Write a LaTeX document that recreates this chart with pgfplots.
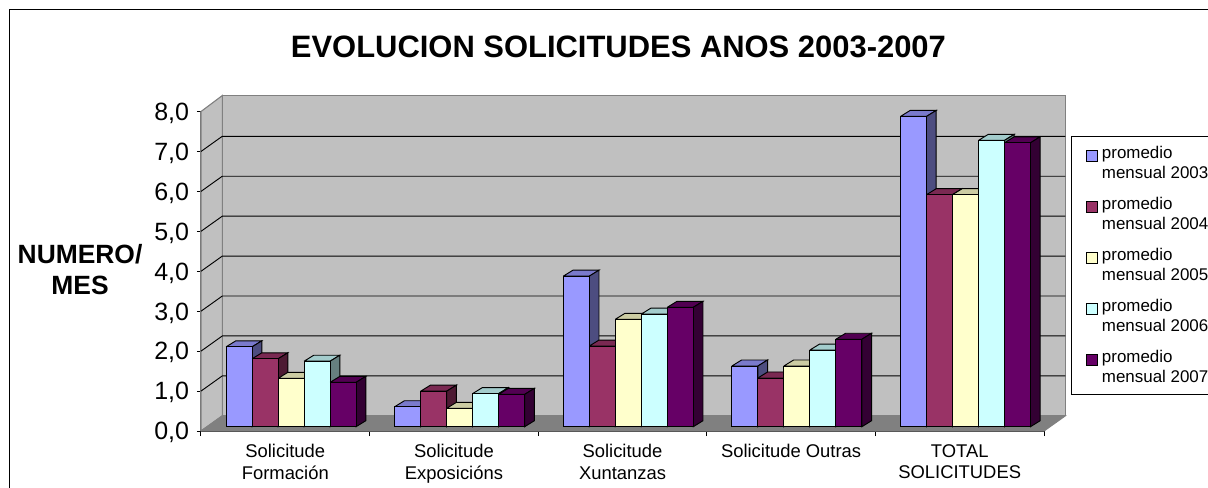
\documentclass[border=0pt]{standalone}
\usepackage{fontspec}
\setmainfont{Liberation Sans}
\usepackage{pgfplots}
\usepackage{pgfplotstable}
\pgfplotsset{compat=1.18}
\definecolor{sA}{HTML}{9999FF}\definecolor{sAt}{HTML}{7A7ACC}\definecolor{sAs}{HTML}{4D4D80}
\definecolor{sB}{HTML}{993366}\definecolor{sBt}{HTML}{7A2952}\definecolor{sBs}{HTML}{4D1A33}
\definecolor{sC}{HTML}{FFFFCC}\definecolor{sCt}{HTML}{CCCCA3}\definecolor{sCs}{HTML}{808066}
\definecolor{sD}{HTML}{CCFFFF}\definecolor{sDt}{HTML}{A3CCCC}\definecolor{sDs}{HTML}{668080}
\definecolor{sE}{HTML}{660066}\definecolor{sEt}{HTML}{520052}\definecolor{sEs}{HTML}{330033}
\definecolor{wallc}{HTML}{C0C0C0}\definecolor{floorc}{HTML}{808080}
\pgfplotstableread{
cat  a    b    c    d    e
0.5  2.00 1.70 1.21 1.64 1.11
1.5  0.50 0.89 0.46 0.83 0.81
2.5  3.77 2.02 2.69 2.82 2.99
3.5  1.52 1.22 1.52 1.92 2.19
4.5  7.77 5.81 5.81 7.17 7.11
}\chartdata
\newcommand\barW{0.1542}
\newcommand\barOff{0.0344}
\newcommand\depthX{0.0575}
\newcommand\depthY{0.15}
% top and side faces of one series, from the table
\newcommand\faces[4]{%
  \pgfplotsforeachungrouped \r in {0,1,2,3,4}{%
    \pgfplotstablegetelem{\r}{#2}\of\chartdata
    \let\v\pgfplotsretval
    \pgfmathsetmacro\xa{\r+0.5+\barOff+(#1-2.5)*\barW}%
    \pgfmathsetmacro\xb{\xa+\barW}%
    \pgfmathsetmacro\xc{\xa+\depthX}%
    \pgfmathsetmacro\xd{\xb+\depthX}%
    \pgfmathsetmacro\yt{\v+\depthY}%
    \edef\temp{\noexpand\addplot[forget plot,sharp plot,mark=none,yshift=3.225pt,fill=#3,draw=black,line width=.7pt]
      coordinates {(\xa,\v)(\xb,\v)(\xd,\yt)(\xc,\yt)(\xa,\v)};
      \noexpand\addplot[forget plot,sharp plot,mark=none,yshift=3.225pt,fill=#4,draw=black,line width=.7pt]
      coordinates {(\xb,\v)(\xd,\yt)(\xd,\depthY)(\xb,0)(\xb,\v)};}%
    \temp
  }%
}
\pgfplotsset{
  swatch/.style={legend image code/.code={\draw[##1,yshift=-3.225pt,line width=.7pt] (0pt,1.85pt) rectangle (8.25pt,10.1pt);}},
  front/.style={ybar,bar width=\barW,draw=black,line width=.7pt,swatch},
}
\begin{document}
\begin{tikzpicture}
\useasboundingbox (0,0) rectangle (906pt,365.25pt);
\clip (0,0) rectangle (906pt,365.25pt);
\fill[white] (0,0) rectangle (906pt,365.25pt);
\draw[black,line width=.8pt] (7.1pt,-2pt) -- (7.1pt,358.1pt) -- (910pt,358.1pt);
\begin{axis}[
  at={(150.75pt,42pt)},anchor=south west,
  scale only axis,width=632.25pt,height=239.6pt,
  xmin=0,xmax=5,ymin=0,ymax=8,clip=false,
  axis x line*=bottom,axis y line*=left,
  x axis line style={-,black,line width=.75pt},
  y axis line style={-,black!60,line width=.9pt},
  tick align=outside,
  ytick={0,1,2,3,4,5,6,7,8},
  y tick style={black,line width=.75pt},
  major y tick style={/pgfplots/major tick length=3pt},
  xtick={0.5,1.5,2.5,3.5,4.5},
  major x tick style={/pgfplots/major tick length=0pt,draw=none},
  minor xtick={0,1,2,3,4,5},
  minor x tick style={black,line width=.75pt},
  minor tick length=3.75pt,
  xticklabels={{Solicitude\\Formación},{Solicitude\\Exposicións},{Solicitude\\Xuntanzas},{Solicitude Outras},{TOTAL\\SOLICITUDES}},
  xticklabel style={align=center,font=\fontsize{13.8}{15.9}\selectfont,anchor=north,yshift=-2.4pt},
  yticklabel style={font=\fontsize{18.75}{20}\selectfont,/pgf/number format/.cd,use comma,fixed,fixed zerofill,precision=1,assume math mode=true,/tikz/.cd,inner sep=0pt,xshift=-4.5pt,yshift=-1.3pt},
  title={EVOLUCION SOLICITUDES ANOS 2003-2007},
  title style={at={(0.4952,1.1769)},anchor=center,yshift=0pt,font=\fontsize{23.2}{26}\selectfont\bfseries,inner sep=0pt},
  ylabel={NUMERO/\\MES},
  every axis y label/.style={at={(-0.1435,0.5055)},anchor=center,rotate=0,align=center,font=\fontsize{19.8}{23}\selectfont\bfseries},
  legend style={at={(1.0317,0.9224)},anchor=north west,draw=black,line width=.75pt,
    inner xsep=11pt,inner ysep=7.3pt,font=\fontsize{12.7}{14.6}\selectfont,
    nodes={inner sep=0pt,text depth=16.8pt},row sep=12.2pt,
    /tikz/column 1/.style={column sep=3.1pt}},
  legend cell align=left,
]
% walls, floor and gridlines
\addplot[forget plot,sharp plot,mark=none,fill=wallc,draw=floorc,line width=.8pt] coordinates {(0.1263,0.38)(5.1263,0.38)(5.1263,8.4)(0.1263,8.4)(0.1263,0.38)};
\addplot[forget plot,sharp plot,mark=none,fill=wallc,draw=floorc,line width=.8pt] coordinates {(0,0)(0.1263,0.38)(0.1263,8.4)(0,8)(0,0)};
\addplot[forget plot,sharp plot,mark=none,fill=floorc,draw=floorc,line width=.8pt] coordinates {(0,0)(5,0)(5.1263,0.38)(0.1263,0.38)(0,0)};
\pgfplotsforeachungrouped \k in {1,2,3,4,5,6,7}{%
  \pgfmathsetmacro\ky{\k+0.38}%
  \edef\temp{\noexpand\addplot[forget plot,sharp plot,mark=none,black,line width=.7pt] coordinates {(0,\k)(0.1263,\ky)(5.1263,\ky)};}%
  \temp
}
\faces{0}{a}{sAt}{sAs}
\addplot[front,bar shift={\barOff+(-2)*\barW},fill=sA,yshift=3.225pt] table[x=cat,y=a] {\chartdata};
\addlegendentry{\vtop{\hbox{promedio}\hbox{mensual 2003}}}
\faces{1}{b}{sBt}{sBs}
\addplot[front,bar shift={\barOff+(-1)*\barW},fill=sB,yshift=3.225pt] table[x=cat,y=b] {\chartdata};
\addlegendentry{\vtop{\hbox{promedio}\hbox{mensual 2004}}}
\faces{2}{c}{sCt}{sCs}
\addplot[front,bar shift={\barOff},fill=sC,yshift=3.225pt] table[x=cat,y=c] {\chartdata};
\addlegendentry{\vtop{\hbox{promedio}\hbox{mensual 2005}}}
\faces{3}{d}{sDt}{sDs}
\addplot[front,bar shift={\barOff+\barW},fill=sD,yshift=3.225pt] table[x=cat,y=d] {\chartdata};
\addlegendentry{\vtop{\hbox{promedio}\hbox{mensual 2006}}}
\faces{4}{e}{sEt}{sEs}
\addplot[front,bar shift={\barOff+2*\barW},fill=sE,yshift=3.225pt] table[x=cat,y=e] {\chartdata};
\addlegendentry{\vtop{\hbox{promedio}\hbox{mensual 2007}}}
\end{axis}
\end{tikzpicture}
\end{document}
